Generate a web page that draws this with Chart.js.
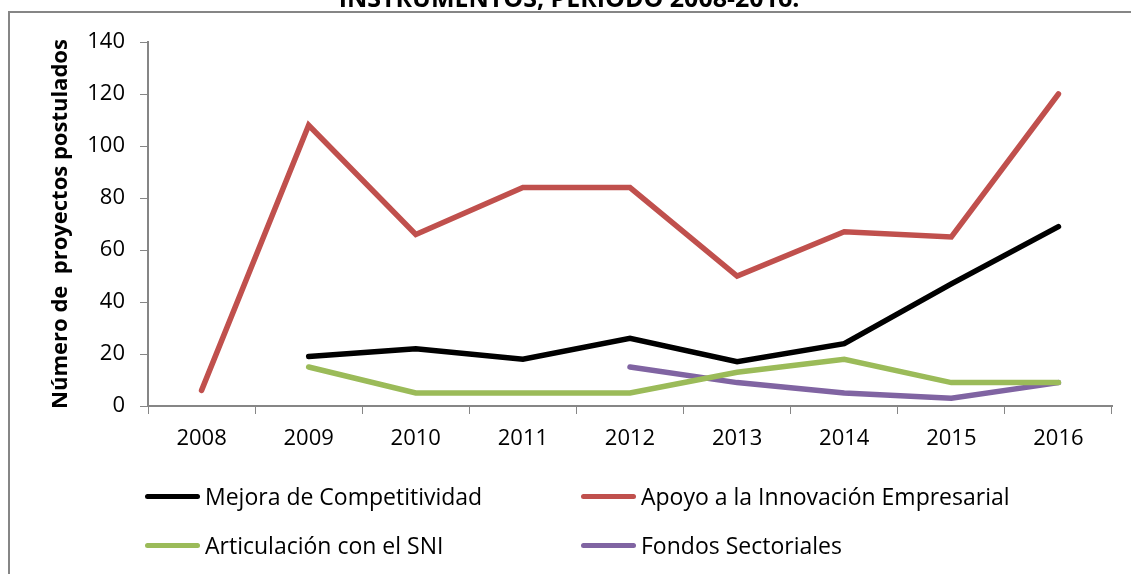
<!DOCTYPE html>
<html>
<head>
<meta charset="utf-8">
<script src="https://cdn.jsdelivr.net/npm/chart.js@4.4.1/dist/chart.umd.min.js"></script>
<style>
    body{margin:0;background:#fff;}
    #wrap{position:relative;width:1131px;height:574px;overflow:hidden;}
    #legend{position:absolute;left:0;top:0;width:1131px;height:574px;pointer-events:none;
        font-family:"Open Sans",sans-serif;font-size:23px;color:#000;}
    .item{position:absolute;display:flex;align-items:center;white-space:nowrap;}
    .item span.sw{display:inline-block;width:55px;height:5px;border-radius:3px;margin-right:5px;}
</style>
</head>
<body>
<div id="wrap">
    <canvas id="chart" width="1131" height="574"></canvas>
    <div id="legend"></div>
</div>
<script>
    var years = ["2008","2009","2010","2011","2012","2013","2014","2015","2016"];

    var mejora = [null, 19, 22, 18, 26, 17, 24, 47, 69];
    var apoyo = [6, 108, 66, 84, 84, 50, 67, 65, 120];
    var articulacion = [null, 15, 5, 5, 5, 13, 18, 9, 9];
    var fondos = [null, null, null, null, 15, 9, 5, 3, 9];

    var seriesNames = ["Mejora de Competitividad", "Apoyo a la Innovación Empresarial", "Articulación con el SNI", "Fondos Sectoriales"];
    var seriesColors = ["#000000", "#C0504D", "#9BBB59", "#8064A2"];

    var titleText = "INSTRUMENTOS, PERIODO 2008-2016.";
    var yTitle = "Número de  proyectos postulados";

    var axisColor = "#868686";
    var fontFamily = "'Open Sans', sans-serif";

    // frame + clipped title on top
    const framePlugin = {
        id: "frame",
        beforeDraw(chart) {
            const c = chart.ctx;
            c.save();
            c.fillStyle = "#fff";
            c.fillRect(0, 0, chart.width, chart.height);
            c.strokeStyle = axisColor;
            c.lineWidth = 2;
            c.strokeRect(9, 12, 1300, 800);
            c.fillStyle = "#fff";
            c.fillRect(0, 0, chart.width, 11);
            c.fillStyle = "#000";
            c.font = "bold 25px " + fontFamily;
            c.textAlign = "center";
            c.textBaseline = "alphabetic";
            c.fillText(titleText, 569, 7);
            c.restore();
        }
    };

    var datasets = [mejora, apoyo, articulacion, fondos].map((d, i) => ({
        label: seriesNames[i],
        data: d,
        borderColor: seriesColors[i],
        backgroundColor: seriesColors[i],
        borderWidth: 5.5,
        pointRadius: 0,
        tension: 0,
        spanGaps: false,
        borderCapStyle: "round",
        borderJoinStyle: "miter"
    }));

    const chart = new Chart(document.getElementById("chart"), {
        type: "line",
        data: { labels: years, datasets: datasets },
        options: {
            responsive: false,
            animation: false,
            layout: { padding: { left: 48, right: 19, top: 42, bottom: 0 } },
            plugins: {
                legend: { display: false },
                tooltip: { enabled: false }
            },
            scales: {
                x: {
                    offset: true,
                    grid: { display: true, drawOnChartArea: false, color: axisColor, tickLength: 8, offset: true },
                    border: { color: axisColor, width: 2 },
                    ticks: { color: "#000", font: { family: fontFamily, size: 22 }, padding: 12, maxRotation: 0 },
                    afterFit(scale) { scale.height = 168; }
                },
                y: {
                    min: 0,
                    max: 140,
                    ticks: { stepSize: 20, color: "#000", font: { family: fontFamily, size: 22 }, padding: 15 },
                    grid: { display: true, drawOnChartArea: false, color: axisColor, tickLength: 8 },
                    border: { color: axisColor, width: 2 },
                    title: { display: true, text: yTitle, color: "#000", font: { family: fontFamily, size: 22, weight: "bold" }, padding: 0 },
                    afterFit(scale) { scale.width = 100; }
                }
            }
        },
        plugins: [framePlugin]
    });

    // legend as html, two columns
    var legendPos = [[145, 496], [581, 496], [145, 545], [581, 545]];
    var legend = document.getElementById("legend");
    seriesNames.forEach((name, i) => {
        var div = document.createElement("div");
        div.className = "item";
        div.style.left = legendPos[i][0] + "px";
        div.style.top = (legendPos[i][1] - 15) + "px";
        div.style.height = "30px";
        div.innerHTML = '<span class="sw" style="background:' + seriesColors[i] + '"></span>' + name;
        legend.appendChild(div);
    });
</script>
</body>
</html>
